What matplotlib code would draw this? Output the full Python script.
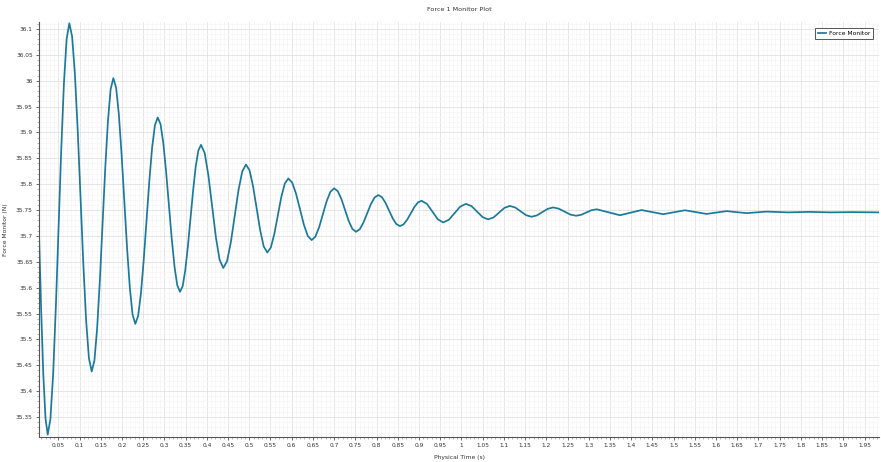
import matplotlib
matplotlib.use('Agg')
import matplotlib.pyplot as plt
from matplotlib.ticker import MultipleLocator

# Force monitor history (time in s, force in N)
time_s = [
    0.004, 0.00925, 0.0145, 0.01975, 0.025,
    0.03136, 0.03773, 0.04409, 0.05045, 0.05681, 0.06318, 0.06954, 0.0759,
    0.0825, 0.0891, 0.0957, 0.1023, 0.1089, 0.1155, 0.1221, 0.1287,
    0.1351, 0.1414, 0.1478, 0.1542, 0.1605, 0.1669, 0.1732, 0.1796,
    0.1861, 0.1926, 0.1990, 0.2055, 0.2120, 0.2185, 0.2249, 0.2314,
    0.2380, 0.2446, 0.2512, 0.2578, 0.2644, 0.2710, 0.2776, 0.2842,
    0.2908, 0.2974, 0.3039, 0.3105, 0.3171, 0.3237, 0.3302, 0.3368,
    0.3430, 0.3491, 0.3553, 0.3615, 0.3677, 0.3738, 0.3800, 0.3862,
    0.3950, 0.4037, 0.4125, 0.4213, 0.4300, 0.4388,
    0.4477, 0.4566, 0.4656, 0.4745, 0.4834, 0.4923,
    0.5007, 0.5090, 0.5174, 0.5258, 0.5341, 0.5425,
    0.5508, 0.5590, 0.5673, 0.5755, 0.5838, 0.592,
    0.6012, 0.6103, 0.6195, 0.6287, 0.6378, 0.647,
    0.6558, 0.6647, 0.6735, 0.6823, 0.6912, 0.700,
    0.7086, 0.7172, 0.7258, 0.7343, 0.7429, 0.7515,
    0.7603, 0.7690, 0.7778, 0.7865, 0.7953, 0.804,
    0.8125, 0.8210, 0.8295, 0.8380, 0.8465, 0.855,
    0.8635, 0.8720, 0.8805, 0.8890, 0.8975, 0.906,
    0.9188, 0.9315, 0.9443, 0.957,
    0.9704, 0.9838, 0.9972, 1.0106,
    1.0237, 1.0368, 1.0499, 1.063,
    1.0758, 1.0885, 1.1013, 1.114,
    1.1268, 1.1395, 1.1523, 1.165,
    1.1778, 1.1905, 1.2033, 1.216,
    1.2295, 1.2430, 1.2565, 1.270,
    1.2822, 1.2943, 1.3065, 1.3186,
    1.3461, 1.3735, 1.3991, 1.4246, 1.4501, 1.4755, 1.5011, 1.5266,
    1.5522, 1.5777, 1.6014, 1.625, 1.6485, 1.672, 1.6955, 1.719,
    1.77, 1.82, 1.87, 1.92, 1.984,
]
force_n = [
    35.72, 35.564, 35.434, 35.347, 35.316,
    35.3463, 35.4324, 35.5614, 35.7135, 35.8656, 35.9946, 36.0807, 36.111,
    36.0854, 36.0124, 35.9033, 35.7745, 35.6457, 35.5366, 35.4636, 35.438,
    35.4596, 35.5210, 35.6130, 35.7215, 35.8300, 35.9220, 35.9834, 36.005,
    35.9869, 35.9354, 35.8584, 35.7675, 35.6766, 35.5996, 35.5481, 35.530,
    35.5452, 35.5884, 35.6532, 35.7295, 35.8058, 35.8706, 35.9138, 35.929,
    35.9162, 35.8796, 35.8250, 35.7605, 35.6960, 35.6414, 35.6048, 35.592,
    35.6028, 35.6336, 35.6797, 35.734, 35.7883, 35.8344, 35.8652, 35.876,
    35.8601, 35.8165, 35.757, 35.6975, 35.6539, 35.638,
    35.6514, 35.688, 35.738, 35.788, 35.8246, 35.838,
    35.8266, 35.7955, 35.753, 35.7105, 35.6794, 35.668,
    35.6776, 35.7037, 35.7395, 35.7753, 35.8014, 35.811,
    35.803, 35.7813, 35.7515, 35.7217, 35.70, 35.692,
    35.6987, 35.717, 35.742, 35.767, 35.7853, 35.792,
    35.7864, 35.771, 35.75, 35.729, 35.7136, 35.708,
    35.7128, 35.7257, 35.7435, 35.7613, 35.7742, 35.779,
    35.775, 35.764, 35.749, 35.734, 35.723, 35.719,
    35.7223, 35.7312, 35.7435, 35.7558, 35.7647, 35.768,
    35.7618, 35.747, 35.7322, 35.726,
    35.7313, 35.744, 35.7567, 35.762,
    35.7576, 35.747, 35.7364, 35.732,
    35.7358, 35.745, 35.7542, 35.758,
    35.7549, 35.7475, 35.7401, 35.737,
    35.7396, 35.746, 35.7524, 35.755,
    35.7527, 35.747, 35.7413, 35.739,
    35.7408, 35.7453, 35.7497, 35.7515,
    35.7458, 35.740, 35.745, 35.750, 35.746, 35.742, 35.7458, 35.7496,
    35.746, 35.7425, 35.7453, 35.748, 35.746, 35.744, 35.7455, 35.747,
    35.7455, 35.7465, 35.7455, 35.746, 35.7455,
]

fig = plt.figure(figsize=(8.81, 4.62), dpi=100)
ax = fig.add_axes([0.0443, 0.0548, 0.9534, 0.8982])

ax.plot(time_s, force_n, color='#1b7a9b', linewidth=1.25, label='Force Monitor')

ax.set_xlim(0.0045, 1.984)
ax.set_ylim(35.312, 36.114)

ax.xaxis.set_major_locator(MultipleLocator(0.05))
ax.xaxis.set_minor_locator(MultipleLocator(0.01))
ax.yaxis.set_major_locator(MultipleLocator(0.05))
ax.yaxis.set_minor_locator(MultipleLocator(0.01))
fmt = plt.FuncFormatter(lambda v, p: f'{v:.2f}'.rstrip('0').rstrip('.'))
ax.xaxis.set_major_formatter(fmt)
ax.yaxis.set_major_formatter(fmt)

ax.grid(True, which='major', color='#e2e2e2', linewidth=0.6)
ax.grid(True, which='minor', color='#f5f5f5', linewidth=0.5)
ax.set_axisbelow(True)

for side in ['top', 'right']:
    ax.spines[side].set_visible(False)
for side in ['left', 'bottom']:
    ax.spines[side].set_color('#555555')
    ax.spines[side].set_linewidth(0.8)

ax.tick_params(which='major', direction='out', length=2.5, width=0.6,
               color='#555555', labelsize=4.2, labelcolor='#333333', pad=2)
ax.tick_params(which='minor', direction='out', length=1.3, width=0.4, color='#777777')

ax.set_title('Force 1 Monitor Plot', fontsize=4.6, color='#333333', pad=8)
ax.set_xlabel('Physical Time (s)', fontsize=4.3, color='#333333', labelpad=5)
ax.set_ylabel('Force Monitor (N)', fontsize=4.3, color='#333333', labelpad=6)

leg = ax.legend(loc='upper right', fontsize=4.3, fancybox=False, framealpha=1,
                edgecolor='#555555', handlelength=1.4, handletextpad=0.4,
                borderaxespad=1.0, borderpad=0.5)
leg.get_frame().set_linewidth(0.7)

fig.savefig('out.png', dpi=100)
